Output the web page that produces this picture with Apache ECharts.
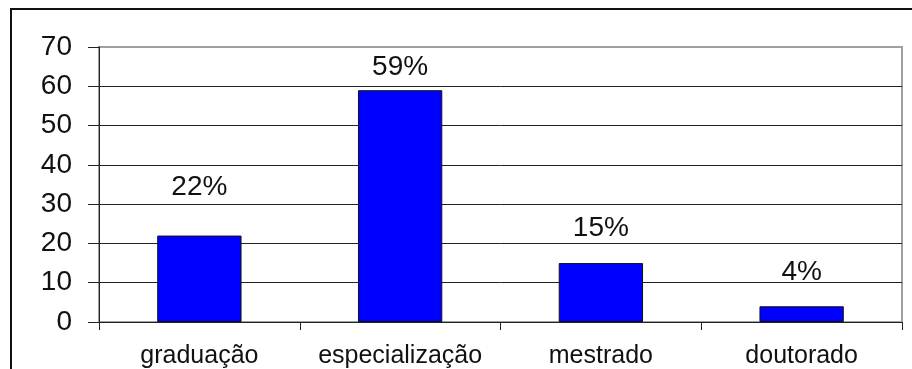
<!DOCTYPE html>
<html>
<head>
<meta charset="utf-8">
<script src="https://cdn.jsdelivr.net/npm/echarts@6/dist/echarts.min.js"></script>
<style>
  html, body { margin: 0; padding: 0; background: #fff; }
  #frame {
    position: absolute; left: 10px; top: 8px; width: 960px; height: 420px;
    border-top: 2px solid #111; border-left: 2px solid #111;
  }
  #chart { position: absolute; left: 0; top: 0; width: 912px; height: 369px; }
</style>
</head>
<body>
<div id="frame"></div>
<div id="chart"></div>
<script>
// Formação acadêmica (%)
const categories = ['graduação', 'especialização', 'mestrado', 'doutorado'];
const values = [22, 59, 15, 4];
const valueLabels = ['22%', '59%', '15%', '4%'];
const yTicks = [0, 10, 20, 30, 40, 50, 60, 70];

// gap between each bar top and its percentage label
const labelGap = [34, 9, 21, 20];

const chart = echarts.init(document.getElementById('chart'), null, { renderer: 'canvas' });
const font = 'Liberation Sans, Arial, sans-serif';

chart.setOption({
  animation: false,
  backgroundColor: 'transparent',
  grid: {
    left: 99, right: 10, top: 47, bottom: 44,
    show: true, borderColor: '#a0a0a0', borderWidth: 2, backgroundColor: 'transparent'
  },
  xAxis: {
    type: 'category',
    data: categories,
    axisLine: { lineStyle: { color: '#222', width: 1 } },
    axisTick: { show: true, length: 8, lineStyle: { color: '#222' } },
    axisLabel: { interval: 0, color: '#111', fontFamily: font, fontSize: 25, margin: 22 }
  },
  yAxis: {
    type: 'value',
    min: yTicks[0],
    max: yTicks[yTicks.length - 1],
    interval: yTicks[1] - yTicks[0],
    axisLine: { show: true, lineStyle: { color: '#222', width: 1 } },
    axisTick: { show: true, length: 11, lineStyle: { color: '#222' } },
    axisLabel: { color: '#111', fontFamily: font, fontSize: 28, margin: 27 },
    splitLine: { show: true, showMaxLine: false, lineStyle: { color: '#222', width: 1 } }
  },
  series: [{
    type: 'bar',
    barWidth: '42%',
    data: values.map((v, i) => ({
      value: v,
      label: {
        show: true,
        position: 'top',
        distance: labelGap[i],
        formatter: valueLabels[i],
        color: '#111',
        fontFamily: font,
        fontSize: 28
      }
    })),
    itemStyle: { color: '#0000ff', borderColor: '#111', borderWidth: 1 }
  }]
});
</script>
</body>
</html>
